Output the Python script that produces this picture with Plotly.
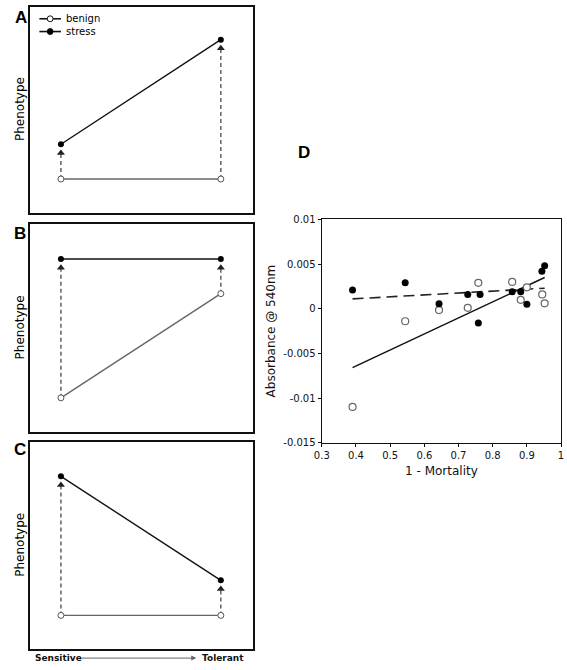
import plotly.graph_objects as go

# ---------------- data ----------------
# Panels A-C: conceptual reaction norms (x: Sensitive -> Tolerant)
genotype_x = [0, 1]
A_benign = [0.163, 0.163]
A_stress = [0.332, 0.841]
B_benign = [0.164, 0.666]
B_stress = [0.833, 0.833]
C_benign = [0.163, 0.163]
C_stress = [0.833, 0.332]

# Panel D: absorbance vs 1 - mortality
D_stress_x = [0.39, 0.544, 0.643, 0.727, 0.763, 0.758, 0.857, 0.882, 0.90, 0.944, 0.952]
D_stress_y = [0.0021, 0.0029, 0.00056, 0.0016, 0.0016, -0.0016, 0.0019, 0.0019, 0.0005, 0.0042, 0.0048]
D_benign_x = [0.39, 0.544, 0.643, 0.727, 0.758, 0.857, 0.882, 0.90, 0.945, 0.952]
D_benign_y = [-0.011, -0.0014, -0.00015, 0.0001, 0.0029, 0.0030, 0.0010, 0.0024, 0.0016, 0.0006]
fit_x = [0.39, 0.952]
benign_fit = [-0.0066, 0.0035]
stress_fit = [0.0011, 0.0023]

D_xticks = [0.3, 0.4, 0.5, 0.6, 0.7, 0.8, 0.9, 1.0]
D_xticktext = ["0.3", "0.4", "0.5", "0.6", "0.7", "0.8", "0.9", "1"]
D_yticks = [-0.015, -0.01, -0.005, 0, 0.005, 0.01]
D_yticktext = ["-0.015", "-0.01", "-0.005", "0", "0.005", "0.01"]

legend_names = ["benign", "stress"]

# ---------------- style ----------------
W, H = 567, 670
FONT = "DejaVu Sans"
STRESS_COL = "#111111"
BENIGN_COL = "#666666"
ARROW_COL = "#555555"
ARROW_GAP = 0.042

fig = go.Figure()

panels = [
    ("", A_benign, A_stress),
    ("2", B_benign, B_stress),
    ("3", C_benign, C_stress),
]

for suf, ben, stre in panels:
    xa, ya = "x" + suf, "y" + suf
    # dashed arrows from benign to stress
    for i, gx in enumerate(genotype_x):
        top = stre[i] - ARROW_GAP
        fig.add_trace(go.Scatter(
            x=[gx, gx], y=[ben[i], top], mode="lines",
            line=dict(color=ARROW_COL, width=1.4, dash="4px,3px"),
            xaxis=xa, yaxis=ya, hoverinfo="skip"))
        fig.add_trace(go.Scatter(
            x=[gx], y=[top], mode="markers",
            marker=dict(symbol="triangle-up", size=7, color="#222222"),
            xaxis=xa, yaxis=ya, hoverinfo="skip"))
    fig.add_trace(go.Scatter(
        x=genotype_x, y=ben, mode="lines+markers", name=legend_names[0],
        line=dict(color=BENIGN_COL, width=1.4),
        marker=dict(symbol="circle", size=6, color="white",
                    line=dict(color="#555555", width=1)),
        xaxis=xa, yaxis=ya))
    fig.add_trace(go.Scatter(
        x=genotype_x, y=stre, mode="lines+markers", name=legend_names[1],
        line=dict(color=STRESS_COL, width=1.4),
        marker=dict(symbol="circle", size=6, color="#000000"),
        xaxis=xa, yaxis=ya))

# Panel D
fig.add_trace(go.Scatter(
    x=fit_x, y=stress_fit, mode="lines",
    line=dict(color="#222222", width=1.6, dash="11px,6px"),
    xaxis="x4", yaxis="y4"))
fig.add_trace(go.Scatter(
    x=fit_x, y=benign_fit, mode="lines",
    line=dict(color="#111111", width=1.5),
    xaxis="x4", yaxis="y4"))
fig.add_trace(go.Scatter(
    x=D_benign_x, y=D_benign_y, mode="markers",
    marker=dict(symbol="circle", size=7, color="white",
                line=dict(color="#666666", width=1.2)),
    xaxis="x4", yaxis="y4"))
fig.add_trace(go.Scatter(
    x=D_stress_x, y=D_stress_y, mode="markers",
    marker=dict(symbol="circle", size=7, color="#000000"),
    xaxis="x4", yaxis="y4"))

box_axis = dict(showticklabels=False, ticks="", showgrid=False, zeroline=False,
                showline=True, mirror=True, linecolor="#111111", linewidth=1.5,
                fixedrange=True)
xr = [-0.196, 1.202]
yr = [0, 1]

xdom = [22 / W, 250 / W]
dom_A = [1 - 211 / H, 1 - 2 / H]
dom_B = [1 - 434 / H, 1 - 223 / H]
dom_C = [1 - 655 / H, 1 - 444 / H]
xdom_D = [320 / W, 564 / W]
ydom_D = [1 - 445 / H, 1 - 218 / H]

tickfont = dict(family=FONT, size=10, color="#111111")

fig.update_layout(
    width=W, height=H,
    margin=dict(l=0, r=0, t=0, b=0),
    paper_bgcolor="white", plot_bgcolor="white",
    font=dict(family=FONT, size=10, color="#111111"),
    showlegend=False,
    xaxis=dict(domain=xdom, range=xr, anchor="y", **box_axis),
    yaxis=dict(domain=dom_A, range=yr, anchor="x", **box_axis),
    xaxis2=dict(domain=xdom, range=xr, anchor="y2", **box_axis),
    yaxis2=dict(domain=dom_B, range=yr, anchor="x2", **box_axis),
    xaxis3=dict(domain=xdom, range=xr, anchor="y3", **box_axis),
    yaxis3=dict(domain=dom_C, range=yr, anchor="x3", **box_axis),
    xaxis4=dict(domain=xdom_D, range=[0.3, 1.0], anchor="y4",
                tickvals=D_xticks, ticktext=D_xticktext, ticklabeloverflow="allow",
                ticks="outside", ticklen=3, tickcolor="#111111",
                showgrid=False, zeroline=False, showline=True, mirror=True,
                linecolor="#111111", linewidth=1.4, tickfont=tickfont,
                title=dict(text="1 - Mortality", font=dict(family=FONT, size=12),
                           standoff=6)),
    yaxis4=dict(domain=ydom_D, range=[-0.015, 0.01], anchor="x4",
                tickvals=D_yticks, ticktext=D_yticktext, ticklabeloverflow="allow",
                ticks="outside", ticklen=3, tickcolor="#111111",
                showgrid=False, zeroline=False, showline=True, mirror=True,
                linecolor="#111111", linewidth=1.4, tickfont=tickfont,
                title=dict(text="Absorbance @ 540nm", font=dict(family=FONT, size=12),
                           standoff=5)),
)

annotations = []
shapes = []
# custom legend inside panel A
for k, (name, fillc, ly) in enumerate([(legend_names[0], "white", 14), (legend_names[1], "black", 27)]):
    yy = 1 - ly / H
    shapes.append(dict(type="line", xref="paper", yref="paper",
                       x0=32 / W, x1=54 / W, y0=yy, y1=yy,
                       line=dict(color="#111111", width=1.6)))
    shapes.append(dict(type="circle", xref="paper", yref="paper",
                       x0=40 / W, x1=46 / W, y0=yy - 3 / H, y1=yy + 3 / H,
                       fillcolor=fillc, line=dict(color="#111111", width=1)))
    annotations.append(dict(text=name, x=57 / W, y=yy, xref="paper", yref="paper",
                            showarrow=False, xanchor="left", yanchor="middle",
                            font=dict(family=FONT, size=10, color="#000000")))
# panel letters
for letter, px, py in [("A", 13, 13), ("B", 12, 232), ("C", 12, 452), ("D", 302, 150)]:
    annotations.append(dict(text="<b>%s</b>" % letter, x=px / W, y=1 - py / H,
                            xref="paper", yref="paper", showarrow=False,
                            xanchor="center", yanchor="middle",
                            font=dict(family="Liberation Sans", size=17, color="#000000")))
# Phenotype labels
for py in [106, 328, 549]:
    annotations.append(dict(text="Phenotype", x=12 / W, y=1 - py / H,
                            xref="paper", yref="paper", showarrow=False, textangle=-90,
                            xanchor="center", yanchor="middle",
                            font=dict(family=FONT, size=12, color="#000000")))
# Sensitive -> Tolerant
annotations.append(dict(text="<b>Sensitive</b>", x=25 / W, y=1 - 664 / H, xref="paper",
                        yref="paper", showarrow=False, xanchor="left", yanchor="middle",
                        font=dict(family=FONT, size=9, color="#111111")))
annotations.append(dict(text="<b>Tolerant</b>", x=196 / W, y=1 - 664 / H, xref="paper",
                        yref="paper", showarrow=False, xanchor="left", yanchor="middle",
                        font=dict(family=FONT, size=9, color="#111111")))
annotations.append(dict(text="", x=192 / W, y=1 - 664 / H, xref="paper", yref="paper",
                        showarrow=True, ax=-116, ay=0, arrowhead=2, arrowsize=1,
                        arrowwidth=1, arrowcolor="#666666", standoff=0))
fig.update_layout(annotations=annotations, shapes=shapes)

fig.write_html("out.html", config={"displayModeBar": False},
               post_script="document.body.style.margin='0';document.body.style.padding='0';")
